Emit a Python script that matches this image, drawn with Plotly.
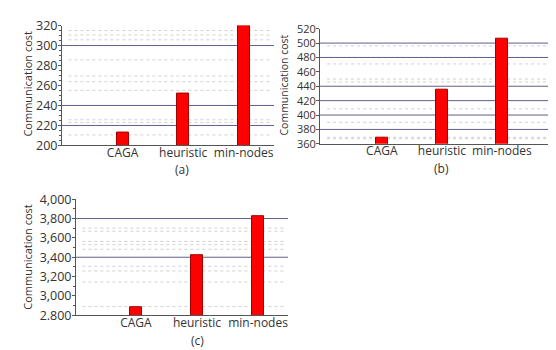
import plotly.graph_objects as go

categories = ["CAGA", "heuristic", "min-nodes"]
values_a = [213, 252, 320]
values_b = [368, 435.5, 506]
values_c = [2881, 3416, 3824]

ticks_a = [200, 220, 240, 260, 280, 300, 320]
ticks_b = [360, 380, 400, 420, 440, 460, 480, 500, 520]
ticks_c = [2800, 3000, 3200, 3400, 3600, 3800, 4000]
ticktext_c = ["2.800", "3,000", "3,200", "3,400", "3,600", "3,800", "4,000"]

solid_a = [300, 240, 220]
dotted_a = [315, 310.5, 305.7, 285.7, 269.5, 263.8, 255.2, 225.7, 222.9, 210.5]
solid_b = [500, 480, 440, 420, 400, 380]
dotted_b = [496, 471, 450, 446, 408.6, 390, 369, 367]
solid_c = [3800, 3400]
dotted_c = [3701, 3669, 3564, 3531, 3482, 3307, 3258, 3144, 2890]

FONT = "Open Sans"
BAR = "#ff0000"
BAR_LINE = "#a00000"
SOLID = "#5f5f8f"
DOT = "#d0d0d0"
AXIS = "#555555"
TXT = "#333333"

fig = go.Figure()
panels = [
    ("x", "y", values_a),
    ("x2", "y2", values_b),
    ("x3", "y3", values_c),
]
for xa, ya, vals in panels:
    fig.add_trace(go.Bar(
        x=[0, 1, 2], y=vals, xaxis=xa, yaxis=ya, width=0.2,
        marker=dict(color=BAR, line=dict(color=BAR_LINE, width=1)),
        showlegend=False, hoverinfo="skip",
    ))

shapes = []
def add_lines(xref, yref, solid, dotted):
    for v in solid:
        shapes.append(dict(type="line", xref=xref + " domain", yref=yref, x0=0, x1=1, y0=v, y1=v,
                           line=dict(color=SOLID, width=1), layer="below"))
    for v in dotted:
        shapes.append(dict(type="line", xref=xref + " domain", yref=yref, x0=0.03, x1=0.98, y0=v, y1=v,
                           line=dict(color=DOT, width=1, dash="dot"), layer="below"))

add_lines("x", "y", solid_a, dotted_a)
add_lines("x2", "y2", solid_b, dotted_b)
add_lines("x3", "y3", solid_c, dotted_c)

W, H = 556, 350
def px_x(a, b):
    return [a / W, b / W]
def px_y(top, bottom):
    return [1 - bottom / H, 1 - top / H]

xcommon = dict(tickmode="array", tickvals=[0, 1, 2], ticktext=categories, showgrid=False,
               showline=True, linecolor=AXIS, linewidth=1, ticks="", zeroline=False,
               ticklabelstandoff=-4,
               tickfont=dict(family=FONT, size=12, color=TXT), fixedrange=True)
ycommon = dict(showgrid=False, showline=True, linecolor=AXIS, linewidth=1, ticks="outside",
               ticklen=3, tickcolor=AXIS, zeroline=False, tickmode="array",
               ticklabelstandoff=-2,
               tickfont=dict(family=FONT, size=12.5, color=TXT), fixedrange=True)

layout = dict(
    width=W, height=H, margin=dict(l=0, r=0, t=0, b=0),
    paper_bgcolor="white", plot_bgcolor="rgba(0,0,0,0)",
    bargap=0, shapes=shapes,
    xaxis=dict(xcommon, domain=px_x(54, 266), range=[-1, 2.5], anchor="y"),
    yaxis=dict(ycommon, domain=px_y(9, 135), range=[200, 320], tickvals=ticks_a, anchor="x",
               minor=dict(tickvals=[205, 210, 215, 225, 230, 235, 245, 250, 255, 265, 270, 275, 285, 290, 295, 305, 310, 315],
                          ticks="outside", ticklen=2, tickcolor=AXIS)),
    xaxis2=dict(xcommon, domain=px_x(312, 548), range=[-1.03, 2.9], anchor="y2"),
    yaxis2=dict(ycommon, domain=px_y(12.3, 133.3), range=[360, 520], tickvals=ticks_b, anchor="x2",
                tickfont=dict(family=FONT, size=11, color=TXT)),
    xaxis3=dict(xcommon, domain=px_x(68, 280), range=[-0.98, 2.49], anchor="y3"),
    yaxis3=dict(ycommon, domain=px_y(191.5, 313.5), range=[2800, 4000], tickvals=ticks_c,
                ticktext=ticktext_c, anchor="x3",
                minor=dict(tickvals=[2900, 3100, 3300, 3500, 3700, 3900], ticks="outside", ticklen=2,
                           tickcolor=AXIS)),
)
fig.update_layout(**layout)

ann = []
def add_text(x, y, text, size, angle=0):
    ann.append(dict(xref="paper", yref="paper", x=x / W, y=1 - y / H, text=text, showarrow=False,
                    textangle=angle, xanchor="center", yanchor="middle",
                    font=dict(family=FONT, size=size, color=TXT)))

add_text(20, 70, "Communication cost", 11, -90)
add_text(276, 72, "Communication cost", 10.5, -90)
add_text(20, 252, "Communication cost", 11, -90)
add_text(174, 160, "(a)", 12)
add_text(433, 159, "(b)", 12)
add_text(189, 340, "(c)", 12)
fig.update_layout(annotations=ann)

fig.write_html("out.html")
